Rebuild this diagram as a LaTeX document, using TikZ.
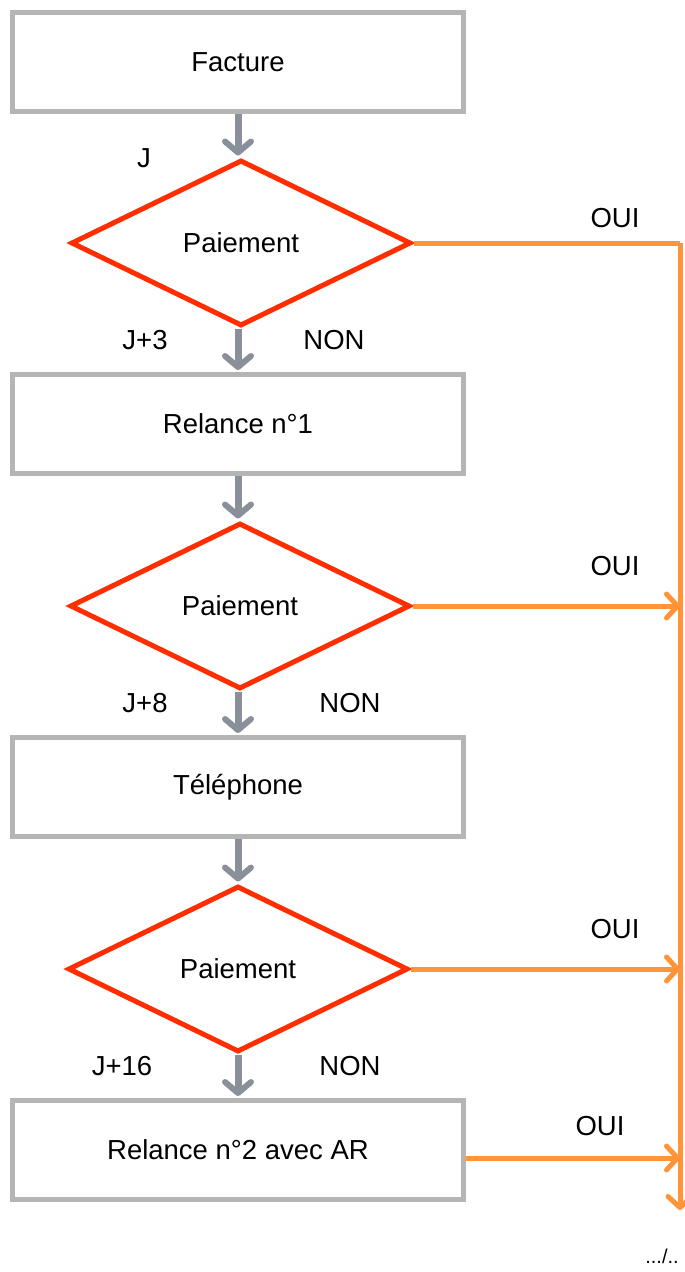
\documentclass[tikz,border=0pt]{standalone}
\usepackage{fontspec}
\setmainfont{Liberation Sans}
\usetikzlibrary{shapes.geometric,arrows.meta}
\definecolor{boxgray}{HTML}{B5B5B5}
\definecolor{arrgray}{HTML}{8A9099}
\definecolor{dred}{HTML}{FF2E00}
\definecolor{oran}{HTML}{FF9438}
\tikzset{
  x=1pt,y=-1pt,
  every node/.style={font=\fontsize{27.5}{32}\selectfont},
  procbox/.style={draw=boxgray,line width=5pt,minimum width=451pt,minimum height=99pt,inner sep=0pt},
  decis/.style={diamond,draw=dred,line width=5pt,minimum width=340pt,minimum height=166pt,inner sep=0pt,aspect=2},
  grayarr/.style={draw=arrgray,line width=7pt,-{Straight Barb[length=11pt,width=26pt,line width=6pt,round]},shorten >=2pt},
  orarr/.style={draw=oran,line width=5pt,-{Straight Barb[length=11pt,width=24pt,line width=5pt,round]}},
  orline/.style={draw=oran,line width=5pt},
  lbl/.style={inner sep=0pt}
}
\begin{document}
\begin{tikzpicture}
\useasboundingbox (0,0) rectangle (685,1272);
\node[procbox] (f) at (238,62) {Facture};
\node[decis] (d1) at (241,243) {Paiement};
\node[procbox] (r1) at (238,424) {Relance n°1};
\node[decis] (d2) at (240,606) {Paiement};
\node[procbox] (t) at (238,787) {Téléphone};
\node[decis] (d3) at (238,969) {Paiement};
\node[procbox] (r2) at (238,1150) {Relance n°2 avec AR};

\draw[grayarr] (f.south) -- (f.south |- d1.north);
\draw[grayarr] (f.south |- d1.south) -- (r1.north);
\draw[grayarr] (r1.south) -- (r1.south |- d2.north);
\draw[grayarr] (t.north |- d2.south) -- (t.north);
\draw[grayarr] (t.south) -- (t.south |- d3.north);
\draw[grayarr] (r2.north |- d3.south) -- (r2.north);

\coordinate (c1) at (680,243);
\coordinate (c2) at (680,606);
\coordinate (c3) at (680,969);
\coordinate (c4) at (680,1158);
\coordinate (cend) at (680,1210);
\draw[orline] (d1.east) -- (c1);
\draw[orarr] (c1) -- (cend);
\draw[orarr] (d2.east) -- (c2);
\draw[orarr] (d3.east) -- (c3);
\draw[orarr] (r2.east |- c4) -- (c4);

\node[lbl] (lj) at (144,158) {J};
\node[lbl] (lj3) at (145,340) {J+3};
\node[lbl] (ln1) at (334,340) {NON};
\node[lbl] (lj8) at (145,703) {J+8};
\node[lbl] (ln2) at (350,703) {NON};
\node[lbl] (lj16) at (122,1066) {J+16};
\node[lbl] (ln3) at (350,1066) {NON};
\node[lbl] (o1) at (615,218) {OUI};
\node[lbl] (o2) at (615,566) {OUI};
\node[lbl] (o3) at (615,929) {OUI};
\node[lbl] (o4) at (600,1126) {OUI};
\node[lbl,font=\fontsize{20}{24}\selectfont] (cont) at (662,1256) {.../..};
\end{tikzpicture}
\end{document}
